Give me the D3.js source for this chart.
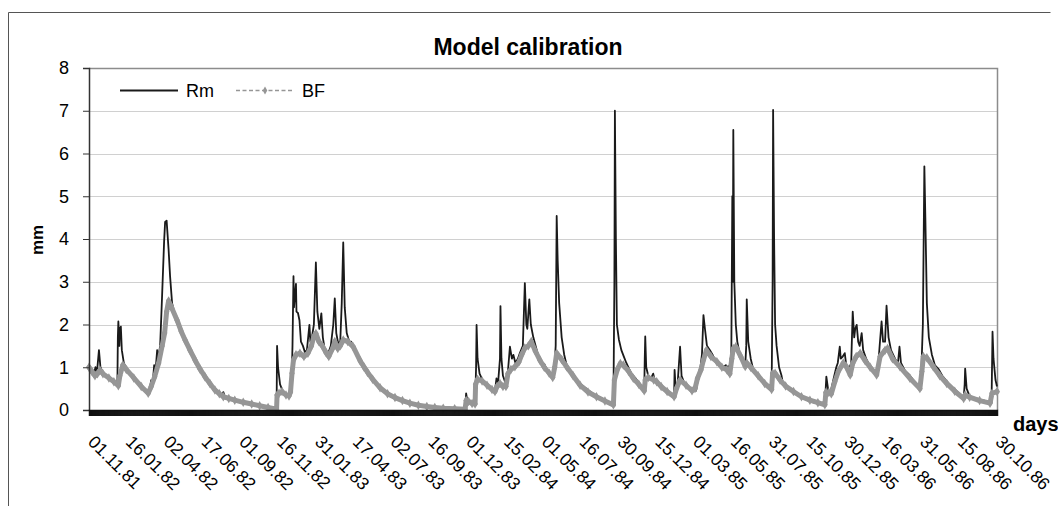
<!DOCTYPE html>
<html>
<head>
<meta charset="utf-8">
<script src="https://cdn.jsdelivr.net/npm/d3@7"></script>
<style>
  body { margin: 0; background: #fff; }
  svg { display: block; font-family: Arial, "Liberation Sans", sans-serif; }
</style>
</head>
<body>
<script>
const WIDTH = 1058
const HEIGHT = 506
const MARGIN = { left: 89, right: 61, top: 68, bottom: 96 }

// categories: one per day, starting 01.11.81
const START = '01.11.81'
const N_DAYS = 1826
const tickLabels = ['01.11.81', '16.01.82', '02.04.82', '17.06.82', '01.09.82', '16.11.82',
  '31.01.83', '17.04.83', '02.07.83', '16.09.83', '01.12.83', '15.02.84', '01.05.84',
  '16.07.84', '30.09.84', '15.12.84', '01.03.85', '16.05.85', '31.07.85', '15.10.85',
  '30.12.85', '16.03.86', '31.05.86', '15.08.86', '30.10.86']
const yTicks = [0, 1, 2, 3, 4, 5, 6, 7, 8]

// [day since 01.11.81, mm]
const rm = [
  [0, 1.0], [6, 0.88], [10, 0.85], [13, 1.0], [16, 0.88], [20, 1.4], [23, 1.0], [27, 0.9],
  [40, 0.75], [50, 0.66], [57, 0.57], [58, 1.7], [59, 2.07], [61, 1.5], [62, 1.9], [64, 1.95],
  [66, 1.4], [70, 1.1], [76, 0.95], [90, 0.75], [105, 0.55], [119, 0.39], [123, 0.55], [125, 0.7],
  [128, 0.62], [131, 1.05], [133, 0.8], [137, 1.4], [139, 1.2], [143, 1.5], [147, 2.7], [151, 3.95],
  [153, 4.4], [156, 4.43], [160, 3.75], [163, 3.12], [167, 2.5], [172, 2.25], [177, 2.1],
  [185, 1.85], [193, 1.64], [203, 1.4], [213, 1.17], [223, 0.96], [233, 0.78], [243, 0.62],
  [253, 0.47], [262, 0.38], [268, 0.33], [270, 0.42], [273, 0.31], [281, 0.27], [293, 0.23],
  [310, 0.18], [327, 0.14], [343, 0.1], [360, 0.06], [377, 0.02],
  [378, 1.5], [380, 1.0], [384, 0.6], [390, 0.42], [398, 0.35], [404, 0.42], [407, 0.55],
  [409, 1.5], [411, 3.13], [412, 2.4], [414, 2.7], [416, 2.95], [417, 2.3], [420, 2.27],
  [423, 2.1], [426, 1.6], [430, 1.5], [434, 1.35], [438, 1.4], [443, 1.99], [445, 1.6],
  [448, 1.7], [452, 2.0], [456, 3.45], [459, 2.3], [463, 1.9], [467, 2.26], [470, 1.7],
  [474, 1.4], [480, 1.3], [486, 1.5], [491, 2.0], [494, 2.61], [497, 1.8], [501, 1.55],
  [505, 1.6], [508, 2.5], [511, 3.92], [514, 2.4], [518, 1.8], [523, 1.6], [527, 1.6],
  [531, 1.48], [545, 1.15], [553, 1.0], [560, 0.88], [570, 0.72], [585, 0.52], [600, 0.38],
  [615, 0.29], [630, 0.22], [645, 0.16], [662, 0.11], [679, 0.08], [695, 0.06], [712, 0.04],
  [735, 0.03], [756, 0.02],
  [758, 0.39], [760, 0.25], [766, 0.18], [776, 0.14], [778, 1.0], [779, 1.99], [781, 1.2],
  [785, 0.85], [790, 0.72], [800, 0.6], [810, 0.48], [816, 0.45], [819, 0.74], [822, 0.6],
  [826, 1.2], [827, 2.43], [829, 1.2], [832, 0.8], [838, 0.6], [842, 0.9], [846, 1.48],
  [850, 1.2], [853, 1.29], [857, 1.1], [862, 1.2], [866, 1.33], [872, 1.5], [876, 2.97],
  [879, 2.0], [881, 1.9], [885, 2.59], [888, 2.0], [893, 1.7], [900, 1.4], [905, 1.2],
  [912, 1.05], [915, 1.08], [918, 1.0], [925, 0.86], [932, 0.78], [936, 1.1], [938, 1.5],
  [940, 4.54], [942, 3.5], [945, 2.5], [950, 1.7], [955, 1.3], [960, 1.05], [973, 0.8],
  [983, 0.66], [993, 0.56], [1003, 0.47], [1013, 0.38], [1024, 0.31], [1040, 0.22], [1054, 0.12],
  [1056, 3.0], [1057, 7.0], [1059, 4.0], [1061, 2.0], [1065, 1.65], [1070, 1.4], [1075, 1.25],
  [1080, 1.1], [1090, 0.85], [1100, 0.72], [1116, 0.47], [1117, 1.2], [1118, 1.72], [1120, 1.0],
  [1124, 0.8], [1130, 0.75], [1134, 0.85], [1137, 0.7], [1150, 0.55], [1165, 0.42], [1176, 0.33],
  [1177, 0.94], [1179, 0.55], [1183, 0.6], [1188, 1.48], [1191, 0.8], [1196, 0.65], [1210, 0.5],
  [1220, 0.45], [1223, 0.65], [1227, 0.8], [1232, 1.3], [1235, 2.22], [1238, 1.9], [1242, 1.5],
  [1248, 1.4], [1253, 1.3], [1258, 1.17], [1265, 1.05], [1270, 1.05], [1275, 1.0], [1280, 1.05],
  [1284, 1.0], [1288, 1.05], [1291, 1.3], [1293, 5.0], [1294, 3.0], [1295, 6.55], [1297, 3.0],
  [1300, 2.0], [1303, 1.6], [1308, 1.3], [1315, 1.15], [1319, 1.05], [1321, 1.5], [1322, 2.59],
  [1325, 1.6], [1330, 1.2], [1335, 0.95], [1345, 0.8], [1358, 0.62], [1372, 0.48], [1374, 3.0],
  [1375, 7.02], [1377, 4.0], [1379, 2.0], [1382, 1.5], [1387, 1.0], [1392, 0.8], [1395, 0.6],
  [1410, 0.45], [1426, 0.35], [1440, 0.25], [1452, 0.19], [1466, 0.15], [1479, 0.12],
  [1482, 0.78], [1486, 0.45], [1490, 0.4], [1494, 0.6], [1498, 0.8], [1502, 1.0], [1505, 1.1],
  [1509, 1.48], [1511, 1.2], [1515, 1.25], [1519, 1.33], [1522, 1.05], [1527, 0.95], [1532, 1.1],
  [1535, 2.3], [1538, 1.7], [1540, 1.9], [1543, 1.99], [1546, 1.6], [1549, 1.5], [1553, 1.8],
  [1556, 1.4], [1562, 1.2], [1570, 1.02], [1580, 0.9], [1586, 1.0], [1589, 1.48], [1593, 2.07],
  [1596, 1.6], [1600, 1.6], [1603, 2.44], [1607, 1.7], [1612, 1.4], [1620, 1.2], [1626, 1.1],
  [1629, 1.48], [1632, 1.1], [1640, 0.92], [1649, 0.82], [1660, 0.65], [1672, 0.5], [1674, 1.3],
  [1676, 2.0], [1679, 5.7], [1681, 4.5], [1684, 2.5], [1688, 1.7], [1694, 1.3], [1700, 1.05],
  [1708, 0.95], [1715, 0.8], [1728, 0.62], [1743, 0.45], [1758, 0.28], [1760, 0.6], [1761, 0.97],
  [1764, 0.5], [1770, 0.32], [1790, 0.25], [1814, 0.17], [1816, 1.83], [1818, 1.2], [1822, 0.7],
  [1825, 0.55]
]

const bf = [
  [0, 1.0], [6, 0.9], [12, 0.8], [17, 0.85], [22, 0.93], [28, 0.85], [40, 0.75], [50, 0.66],
  [59, 0.57], [62, 0.8], [68, 1.05], [75, 0.95], [90, 0.75], [105, 0.55], [119, 0.39], [125, 0.55],
  [132, 0.78], [140, 1.1], [147, 1.5], [152, 1.8], [156, 2.3], [160, 2.55], [166, 2.4], [177, 2.1],
  [185, 1.85], [193, 1.64], [203, 1.4], [213, 1.17], [223, 0.96], [233, 0.78], [243, 0.62],
  [253, 0.47], [262, 0.38], [270, 0.31], [281, 0.27], [293, 0.23], [310, 0.18], [327, 0.14],
  [343, 0.1], [360, 0.06], [377, 0.02],
  [378, 0.35], [382, 0.39], [388, 0.43], [396, 0.35], [402, 0.33], [405, 0.42], [408, 0.86],
  [411, 1.17], [416, 1.29], [424, 1.33], [432, 1.25], [440, 1.33], [447, 1.5], [452, 1.72],
  [456, 1.79], [462, 1.6], [469, 1.5], [476, 1.35], [482, 1.25], [490, 1.45], [494, 1.6],
  [500, 1.44], [505, 1.5], [511, 1.64], [520, 1.6], [531, 1.48], [545, 1.15], [553, 1.0],
  [560, 0.88], [570, 0.72], [585, 0.52], [600, 0.38], [615, 0.29], [630, 0.22], [645, 0.16],
  [662, 0.11], [679, 0.08], [695, 0.06], [712, 0.04], [735, 0.03], [756, 0.02],
  [758, 0.22], [763, 0.2], [770, 0.15], [776, 0.14], [777, 0.6], [781, 0.72], [790, 0.68],
  [800, 0.58], [810, 0.48], [816, 0.43], [820, 0.55], [826, 0.62], [832, 0.55], [838, 0.55],
  [842, 0.85], [848, 0.95], [856, 1.01], [864, 1.12], [870, 1.3], [876, 1.45], [883, 1.5],
  [889, 1.6], [897, 1.38], [906, 1.17], [915, 1.0], [925, 0.86], [932, 0.76], [936, 1.0],
  [940, 1.33], [950, 1.18], [960, 1.01], [973, 0.8], [987, 0.58], [1003, 0.42], [1020, 0.31],
  [1037, 0.21], [1054, 0.12],
  [1056, 0.7], [1062, 0.95], [1068, 1.09], [1074, 1.05], [1085, 0.9], [1094, 0.74], [1105, 0.6],
  [1116, 0.45], [1118, 0.7], [1124, 0.76], [1135, 0.7], [1141, 0.66], [1150, 0.55], [1162, 0.43],
  [1176, 0.31], [1181, 0.51], [1188, 0.7], [1200, 0.58], [1212, 0.45], [1218, 0.5], [1223, 0.74],
  [1230, 0.94], [1235, 1.17], [1241, 1.4], [1250, 1.25], [1262, 1.13], [1272, 1.0], [1282, 0.94],
  [1288, 0.85], [1292, 1.2], [1295, 1.44], [1300, 1.48], [1310, 1.25], [1319, 1.02], [1322, 1.1],
  [1330, 1.0], [1345, 0.8], [1358, 0.62], [1372, 0.48],
  [1374, 0.86], [1379, 0.86], [1389, 0.7], [1400, 0.56], [1416, 0.43], [1432, 0.31], [1449, 0.23],
  [1465, 0.17], [1479, 0.12], [1481, 0.41], [1487, 0.41], [1492, 0.38], [1499, 0.66], [1506, 0.9],
  [1516, 1.1], [1522, 1.02], [1530, 0.82], [1535, 1.09], [1542, 1.25], [1550, 1.33], [1560, 1.15],
  [1570, 1.0], [1583, 0.82], [1590, 1.25], [1600, 1.4], [1605, 1.44], [1615, 1.2], [1630, 1.01],
  [1650, 0.74], [1670, 0.5], [1674, 0.9], [1677, 1.25], [1684, 1.22], [1697, 1.01], [1710, 0.8],
  [1724, 0.62], [1740, 0.44], [1758, 0.27], [1761, 0.35], [1770, 0.3], [1790, 0.22], [1811, 0.16],
  [1815, 0.39], [1825, 0.43]
]

const svg = d3.select('body').append('svg')
  .attr('width', WIDTH)
  .attr('height', HEIGHT)

// chart frame (right side runs off past the "days" title)
svg.append('path')
  .attr('d', 'M8.5,520V12.5H1050.5')
  .attr('fill', 'none')
  .attr('stroke', '#555')

const x = d3.scaleLinear()
  .domain([0, N_DAYS - 1])
  .range([MARGIN.left, WIDTH - MARGIN.right])

const y = d3.scaleLinear()
  .domain([0, 8])
  .range([HEIGHT - MARGIN.bottom, MARGIN.top])

// gridlines
svg.append('g')
  .selectAll('line')
  .data(yTicks.filter(d => d > 0 && d < 8))
  .enter()
  .append('line')
  .attr('x1', MARGIN.left).attr('x2', WIDTH - MARGIN.right)
  .attr('y1', d => Math.round(y(d)) + 0.5).attr('y2', d => Math.round(y(d)) + 0.5)
  .attr('stroke', '#d0d0d0')

// plot border top + right
svg.append('path')
  .attr('d', `M${MARGIN.left},${Math.round(y(8)) + 0.5}H${Math.round(x(N_DAYS - 1)) + 0.5}V${y(0)}`)
  .attr('fill', 'none')
  .attr('stroke', '#8c8c8c')
  .attr('stroke-width', 1.5)

svg.append('text')
  .attr('x', 528).attr('y', 55)
  .attr('text-anchor', 'middle')
  .attr('font-weight', 'bold')
  .attr('font-size', 23)
  .text('Model calibration')

const line = d3.line()
  .x(d => x(d[0]))
  .y(d => y(d[1]))

svg.append('path')
  .datum(rm)
  .attr('d', line)
  .attr('fill', 'none')
  .attr('stroke', '#1a1a1a')
  .attr('stroke-width', 1.8)
  .attr('stroke-linejoin', 'round')

svg.append('path')
  .datum(bf)
  .attr('d', line)
  .attr('fill', 'none')
  .attr('stroke', '#969696')
  .attr('stroke-width', 5)
  .attr('stroke-linejoin', 'round')
  .attr('stroke-linecap', 'round')

svg.append('g')
  .selectAll('path')
  .data(bf)
  .enter()
  .append('path')
  .attr('transform', d => `translate(${x(d[0])},${y(d[1])})`)
  .attr('d', d3.symbol(d3.symbolDiamond, 26))
  .attr('fill', '#969696')

// y axis
const yAxis = d3.axisLeft(y)
  .tickValues(yTicks)
  .tickSize(6)
  .tickPadding(14)

const leftAxis = svg.append('g')
  .attr('transform', `translate(${MARGIN.left}, 0)`)
  .call(yAxis)
leftAxis.select('.domain').attr('stroke', '#333').attr('stroke-width', 1.5)
leftAxis.selectAll('.tick line').attr('stroke', '#333')
leftAxis.selectAll('.tick text')
  .attr('font-size', 18)
  .attr('font-family', 'Arial, "Liberation Sans", sans-serif')
  .attr('fill', '#000')

// x axis: a tick for each day
const xAxis = d3.axisBottom(x)
  .tickValues(d3.range(N_DAYS))
  .tickSize(6)
  .tickFormat('')

const bottomAxis = svg.append('g')
  .attr('transform', `translate(0, ${HEIGHT - MARGIN.bottom})`)
  .call(xAxis)
bottomAxis.select('.domain').attr('stroke', '#111').attr('stroke-width', 1.5)
bottomAxis.selectAll('.tick line').attr('stroke', '#111')

const parse = d3.timeParse('%d.%m.%y')
const start = parse(START)

svg.append('g')
  .selectAll('text')
  .data(tickLabels)
  .enter()
  .append('text')
  .attr('transform', d => `translate(${x(d3.timeDay.count(start, parse(d))) - 2}, 443) rotate(45)`)
  .attr('font-size', 17.5)
  .text(d => d)

svg.append('text')
  .attr('transform', 'translate(43, 240) rotate(-90)')
  .attr('text-anchor', 'middle')
  .attr('font-weight', 'bold')
  .attr('font-size', 17)
  .text('mm')

svg.append('text')
  .attr('x', 1013).attr('y', 431)
  .attr('font-weight', 'bold')
  .attr('font-size', 20)
  .text('days')

// legend
const legend = svg.append('g')
legend.append('line')
  .attr('x1', 120).attr('x2', 178).attr('y1', 90.5).attr('y2', 90.5)
  .attr('stroke', '#1a1a1a').attr('stroke-width', 1.8)
legend.append('text')
  .attr('x', 186).attr('y', 97).attr('font-size', 18).text('Rm')
legend.append('line')
  .attr('x1', 236).attr('x2', 294).attr('y1', 90.5).attr('y2', 90.5)
  .attr('stroke', '#969696').attr('stroke-width', 1.5)
  .attr('stroke-dasharray', '4,2.5')
legend.append('path')
  .attr('transform', 'translate(265, 90.5)')
  .attr('d', d3.symbol(d3.symbolDiamond, 18))
  .attr('fill', '#969696')
legend.append('text')
  .attr('x', 302).attr('y', 97).attr('font-size', 18).text('BF')
</script>
</body>
</html>
